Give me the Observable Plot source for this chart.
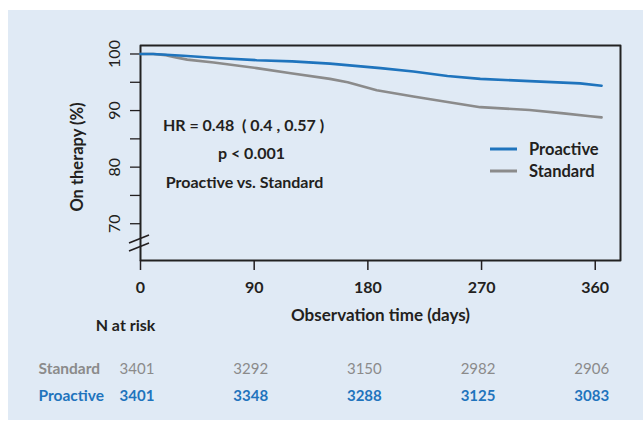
<!DOCTYPE html>
<html>
<head>
<meta charset="utf-8">
<script src="https://cdn.jsdelivr.net/npm/d3@7"></script>
<script src="https://cdn.jsdelivr.net/npm/@observablehq/plot@0.6"></script>
<style>
  html, body { margin: 0; padding: 0; background: #ffffff; }
  #wrap { position: relative; width: 643px; height: 430px; overflow: hidden; }
  #panel { position: absolute; left: 8px; top: 10px; width: 635px; height: 410px; background: #e0eaf5; }
  #chart { position: absolute; left: 0; top: 0; }
</style>
</head>
<body>
<div id="wrap"><div id="panel"></div><div id="chart"></div></div>
<script>
// ---- data ----
const proDays = [0, 10, 34, 60, 92, 120, 150, 170, 190, 216, 243, 269, 308, 348, 365];
const proValues = [100, 100, 99.7, 99.3, 98.9, 98.7, 98.3, 97.9, 97.5, 96.9, 96.1, 95.6, 95.2, 94.8, 94.4];
const stdDays = [0, 10, 20, 28, 37, 58, 92, 119, 150, 164, 187, 216, 243, 269, 308, 335, 356, 365];
const stdValues = [100, 100, 99.8, 99.4, 99.0, 98.5, 97.5, 96.6, 95.6, 95.0, 93.6, 92.5, 91.5, 90.6, 90.1, 89.5, 89.0, 88.8];
const xDomain = [0, 380];
const yDomain = [63.5, 101.5];
const xTicks = [0, 90, 180, 270, 360];
const yTicks = [70, 75, 80, 85, 90, 95, 100];
const yTickLabels = [70, 80, 90, 100];
const riskDays = [0, 90, 180, 270, 360];
const riskStandard = [3401, 3292, 3150, 2982, 2906];
const riskProactive = [3401, 3348, 3288, 3125, 3083];
const seriesNames = ["Proactive", "Standard"];
const annotations = ["HR = 0.48  ( 0.4 , 0.57 )", "p < 0.001", "Proactive vs. Standard"];
const yBreak = 66.5;

const blue = "#1f74bd";
const gray = "#8b8b8b";
const ink = "#231f20";
const font = "Lato, 'Open Sans', sans-serif";

const proData = proDays.map((d, i) => ({day: d, value: proValues[i], group: "Proactive"}));
const stdData = stdDays.map((d, i) => ({day: d, value: stdValues[i], group: "Standard"}));
const boxData = [
  {day: xDomain[0], value: yDomain[0]}, {day: xDomain[1], value: yDomain[0]},
  {day: xDomain[1], value: yDomain[1]}, {day: xDomain[0], value: yDomain[1]},
  {day: xDomain[0], value: yDomain[0]}
];

// break mark "//" on the y axis
function breakMark(index, scales, values, dimensions) {
  const g = d3.create("svg:g").attr("stroke", ink).attr("stroke-width", 1.8);
  const x0 = scales.x(0), y0 = scales.y(yBreak);
  [-4, 4].forEach((off) => {
    g.append("line")
      .attr("x1", x0 - 11).attr("y1", y0 + off + 4)
      .attr("x2", x0 + 9).attr("y2", y0 + off - 4);
  });
  return g.node();
}

// legend inside the plot
function legendMark(index, scales, values, dimensions) {
  const g = d3.create("svg:g").attr("font-family", font).attr("text-anchor", "start");
  const colors = [blue, gray];
  const left = 490, top = 149, step = 22;
  seriesNames.forEach((name, i) => {
    g.append("line").attr("x1", left).attr("x2", left + 27)
      .attr("y1", top + i * step).attr("y2", top + i * step)
      .attr("stroke", colors[i]).attr("stroke-width", 3);
    g.append("text").attr("x", left + 39).attr("y", top + i * step)
      .attr("dy", "0.35em").attr("fill", ink).attr("font-size", 16.5)
      .attr("font-weight", 700).text(name);
  });
  return g.node();
}

const T = {fill: ink, fontWeight: 700, lineAnchor: "middle"};

const chart = Plot.plot({
  width: 643,
  height: 430,
  marginLeft: 140,
  marginRight: 23,
  marginTop: 45,
  marginBottom: 170,
  style: {background: "transparent", fontFamily: font, color: ink},
  x: {domain: xDomain},
  y: {domain: yDomain},
  marks: [
    Plot.line(boxData, {x: "day", y: "value", stroke: "#222222", strokeWidth: 2, curve: "linear"}),
    Plot.axisX({ticks: xTicks, tickSize: 10, tickPadding: 11, fontSize: 16, fontWeight: 700, label: null, stroke: ink, strokeWidth: 1.5}),
    Plot.axisY({ticks: yTicks, tickSize: 10, tickFormat: () => "", label: null, stroke: ink, strokeWidth: 1.3}),
    Plot.text(yTickLabels, {y: d => d, text: d => String(d), frameAnchor: "left", dx: -26, rotate: -90, fontSize: 16, fill: ink, textAnchor: "middle", lineAnchor: "middle"}),
    breakMark,
    Plot.line(stdData, {x: "day", y: "value", stroke: gray, strokeWidth: 2.6}),
    Plot.line(proData, {x: "day", y: "value", stroke: blue, strokeWidth: 2.6}),
    Plot.text([annotations[0]], {...T, frameAnchor: "top-left", dx: 103, dy: 80, text: d => d, fontSize: 16, textAnchor: "middle"}),
    Plot.text([annotations[1]], {...T, frameAnchor: "top-left", dx: 111, dy: 108, text: d => d, fontSize: 16, textAnchor: "middle"}),
    Plot.text([annotations[2]], {...T, frameAnchor: "top-left", dx: 104, dy: 137, text: d => d, fontSize: 16, textAnchor: "middle"}),
    legendMark,
    Plot.text(["On therapy (%)"], {...T, frameAnchor: "left", dx: -63, dy: 4, rotate: -90, text: d => d, fontSize: 16.5, textAnchor: "middle"}),
    Plot.text(["Observation time (days)"], {...T, frameAnchor: "bottom", dy: 55, text: d => d, fontSize: 17, textAnchor: "middle"}),
    Plot.text(["N at risk"], {...T, frameAnchor: "bottom-left", dx: -15, dy: 65, text: d => d, fontSize: 16, textAnchor: "middle"}),
    Plot.text(["Standard"], {...T, frameAnchor: "bottom-left", dx: -102, dy: 109, text: d => d, textAnchor: "start", fontSize: 15.5, fill: gray}),
    Plot.text(["Proactive"], {...T, frameAnchor: "bottom-left", dx: -102, dy: 136, text: d => d, textAnchor: "start", fontSize: 15.5, fill: blue}),
    Plot.text(riskStandard, {x: (d, i) => riskDays[i], frameAnchor: "bottom", dx: -3.5, dy: 109, text: d => String(d), fontSize: 15, fill: gray, lineAnchor: "middle", textAnchor: "middle"}),
    Plot.text(riskProactive, {x: (d, i) => riskDays[i], frameAnchor: "bottom", dx: -3.5, dy: 136, text: d => String(d), fontSize: 15, fontWeight: 700, fill: blue, lineAnchor: "middle", textAnchor: "middle"})
  ]
});
document.getElementById("chart").appendChild(chart);
</script>
</body>
</html>
